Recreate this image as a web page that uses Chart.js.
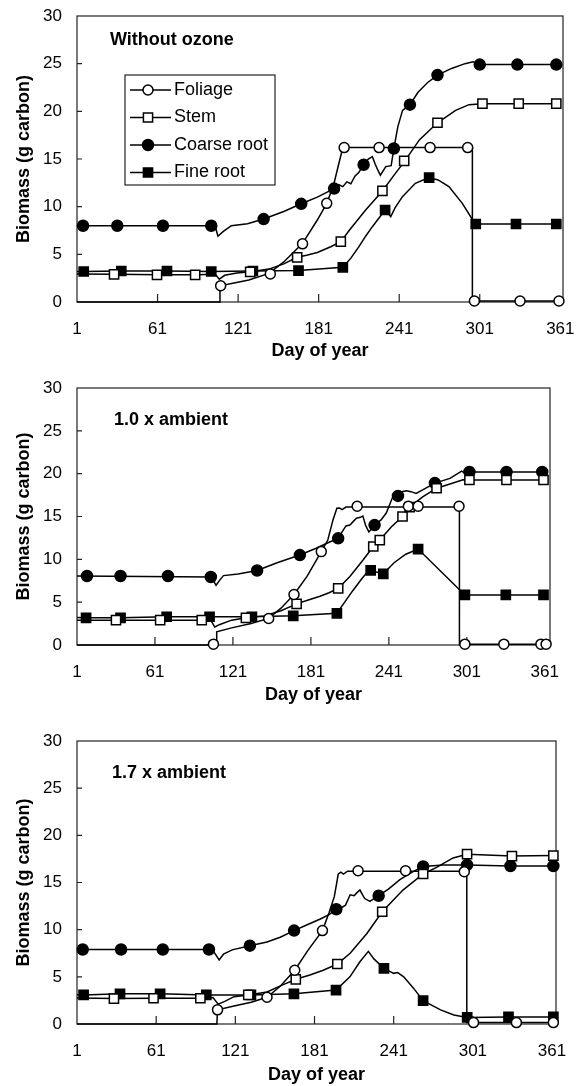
<!DOCTYPE html>
<html>
<head>
<meta charset="utf-8">
<script src="https://cdn.jsdelivr.net/npm/chart.js@4.4.1/dist/chart.umd.min.js"></script>
<style>
  body { margin: 0; background: #fff; width: 585px; height: 1086px; position: relative; overflow: hidden; }
  canvas { position: absolute; left: 0; }
</style>
</head>
<body>
<canvas id="p1" width="585" height="365" style="top:0px"></canvas>
<canvas id="p2" width="585" height="355" style="top:365px"></canvas>
<canvas id="p3" width="585" height="366" style="top:720px"></canvas>
<script>
// ---- data: [day of year, biomass g carbon] ----
const seriesNames = ['Foliage', 'Stem', 'Coarse root', 'Fine root'];
const panelLabels = ['Without ozone', '1.0 x ambient', '1.7 x ambient'];
const dayTicks = [1, 61, 121, 181, 241, 301, 361];
const biomassTicks = [0, 5, 10, 15, 20, 25, 30];

// Without ozone
const p1FoliageLine = [[1,0],[107,0],[107.5,1.7],[118,2.0],[129,2.3],[144,3.0],[155,4.2],[169,6.15],[180,8.6],[187,10.35],[192,12.2],[196,14.5],[199,16.2],[295.5,16.2],[295.5,0.1],[360,0.1]];
const p1FoliageMarks = [[108,1.7],[145,2.95],[169,6.1],[187,10.35],[200,16.2],[226,16.2],[264,16.2],[292,16.2],[297,0.1],[331,0.1],[360,0.1]];
const p1StemLine = [[1,2.95],[30,2.9],[61,2.85],[90,2.85],[104,2.9],[107,2.4],[111,2.8],[120,3.05],[132,3.2],[145,3.5],[155,4.0],[165,4.69],[172,4.9],[180,5.2],[190,5.8],[197.5,6.33],[204,7.55],[216,9.65],[228.5,11.65],[236.6,13.2],[244.7,14.7],[256,17.0],[269.5,18.8],[283,20.1],[293,20.7],[303,20.8],[358,20.8]];
const p1StemMarks = [[28.6,2.9],[60.6,2.85],[89,2.85],[130,3.15],[165,4.69],[197.5,6.33],[228.5,11.65],[244.7,14.8],[269.5,18.8],[303,20.8],[330,20.8],[358,20.8]];
const p1CoarseLine = [[1,8],[101,8],[104,7.9],[106,6.9],[110,7.4],[116,8.0],[128,8.2],[140,8.7],[155,9.5],[168,10.3],[180,11.0],[192.5,11.9],[196,12.3],[199,12.1],[202,12.6],[205,12.4],[208,13.2],[211,13.6],[214.5,14.4],[218,15.0],[221,15.25],[223,14.5],[225,13.85],[227,13.3],[231,14.2],[235,14.3],[237,16.1],[240,18.4],[243.5,20.1],[249,20.7],[255,22.0],[262,23.0],[269.5,23.8],[280,24.5],[290,25.0],[296,25.2],[300.5,24.9],[358,24.9]];
const p1CoarseMarks = [[5.5,8],[31,8],[65,8],[101,8],[140,8.7],[168,10.3],[192.5,11.9],[214.5,14.4],[237,16.1],[249,20.7],[269.5,23.8],[301,24.9],[329,24.9],[358,24.9]];
const p1FineLine = [[1,3.2],[6,3.2],[34,3.25],[68,3.25],[101,3.2],[132,3.25],[166,3.3],[199,3.64],[205,4.6],[211,5.8],[216,6.9],[221,7.9],[230.5,9.65],[232,9.4],[234.7,8.95],[238,9.9],[243.4,11.05],[253,12.45],[263.3,13.05],[270,12.8],[278,12.1],[288,10.35],[297.6,8.18],[358,8.18]];
const p1FineMarks = [[6,3.2],[34,3.25],[68,3.25],[101,3.2],[132,3.25],[166,3.3],[199,3.64],[230.5,9.65],[263.3,13.05],[298,8.18],[328,8.18],[358,8.18]];

// 1.0 x ambient
const p2FoliageLine = [[1,0],[108,0],[108.5,1.55],[120,2.0],[135,2.5],[148.5,3.1],[158,4.3],[168,5.9],[178,8.0],[189,10.9],[194,12.25],[198,14.6],[201,15.96],[203,16.0],[205,15.8],[208,16.1],[295.3,16.1],[295.3,0.1],[362,0.1]];
const p2FoliageMarks = [[106,0.1],[148.5,3.1],[168,5.9],[189,10.9],[216.6,16.2],[256,16.2],[263.5,16.2],[295,16.2],[299.5,0.1],[329.5,0.1],[358,0.1],[362,0.1]];
const p2StemLine = [[1,2.9],[31,2.9],[65,2.9],[97,2.9],[104,2.9],[107,2.1],[111,2.4],[120,2.9],[131,3.17],[145,3.4],[158,4.0],[170,4.8],[179,5.25],[188,5.7],[195,6.1],[202,6.6],[211,8.0],[221,9.9],[229,11.5],[234,12.25],[243,13.8],[251.5,15.0],[257,16.1],[267,17.3],[277.7,18.3],[288,18.8],[298,19.3],[303,19.26],[360,19.26]];
const p2StemMarks = [[31,2.9],[65,2.9],[97,2.9],[131,3.17],[170,4.8],[202,6.6],[229,11.5],[234,12.25],[251.5,15.0],[257,16.1],[277.7,18.3],[303,19.26],[331.5,19.26],[360,19.26]];
const p2CoarseLine = [[1,8.05],[104,7.94],[106,7.5],[108,6.97],[111,7.6],[113.7,8.1],[125,8.3],[139.6,8.7],[155,9.6],[172.5,10.5],[185,11.3],[195,12.0],[202,12.45],[205,13.2],[208,13.9],[211,14.0],[213.5,14.4],[216,14.8],[219,14.9],[221,15.06],[223,14.0],[225.6,13.2],[228,13.6],[230,14.0],[235,14.6],[239,15.4],[244,17.3],[248,17.4],[251,17.9],[254.6,18.0],[258,17.9],[262,17.7],[267,18.1],[276.4,18.9],[288,19.45],[297,20.3],[299,20.1],[303,20.2],[359,20.2]];
const p2CoarseMarks = [[8.7,8.05],[34.5,8.05],[71,8.05],[104,7.94],[139.6,8.7],[172.5,10.5],[202,12.45],[230,14.0],[248,17.4],[276.4,18.9],[303,20.2],[331.5,20.2],[359,20.2]];
const p2FineLine = [[1,3.2],[8,3.17],[34.5,3.17],[70,3.3],[103,3.3],[135.6,3.3],[167.4,3.4],[201,3.7],[207,5.0],[213.5,6.4],[220,7.7],[223.8,8.4],[227,8.7],[232,8.5],[236.7,8.3],[245,9.6],[254,10.6],[263.5,11.2],[299.5,5.84],[360,5.84]];
const p2FineMarks = [[8,3.17],[34.5,3.17],[70,3.3],[103,3.3],[135.6,3.3],[167.4,3.4],[201,3.7],[227,8.7],[236.7,8.3],[263.5,11.2],[299.5,5.84],[331,5.84],[360,5.84]];

// 1.7 x ambient
const p3FoliageLine = [[1,0],[107,0],[107.5,1.5],[120,1.9],[133,2.3],[145,2.83],[155,4.0],[166,5.7],[176,7.8],[187,9.9],[192,11.8],[196,13.5],[199,15.9],[201,16.1],[203,15.9],[206,16.2],[296.4,16.2],[296.4,0.15],[362,0.15]];
const p3FoliageMarks = [[107.5,1.5],[145,2.83],[166,5.7],[187,9.9],[214,16.25],[250,16.25],[294.5,16.15],[301.5,0.15],[334,0.15],[362,0.15]];
const p3StemLine = [[1,2.75],[29,2.7],[59,2.73],[94.5,2.73],[104,2.8],[108,2.1],[113,2.4],[120,2.9],[130.8,3.08],[145,3.4],[156,4.1],[166.8,4.74],[177.5,5.2],[187.6,5.7],[198.3,6.36],[208,7.5],[220.7,9.6],[232.3,11.9],[248,14.2],[263.3,15.9],[273.5,16.6],[286,17.6],[296.6,18.0],[330.6,17.8],[362,17.85]];
const p3StemMarks = [[29,2.7],[59,2.73],[94.5,2.73],[130.8,3.08],[166.8,4.74],[198.3,6.36],[232.3,11.9],[263.3,15.9],[296.6,18.0],[330.6,17.8],[362,17.85]];
const p3CoarseLine = [[1,7.9],[101,7.9],[104,7.8],[108.7,6.8],[112,7.4],[118.6,7.86],[132,8.3],[145,8.7],[155,9.2],[165.5,9.9],[175,10.5],[185,11.1],[192,11.6],[197.5,12.16],[201,12.3],[204.5,12.6],[208,13.7],[211,13.6],[213,13.9],[215.4,14.2],[219,13.3],[223,13.0],[226,13.3],[229.6,13.6],[237,14.3],[245.7,15.3],[255,16.1],[263.3,16.7],[278.5,16.86],[296.6,16.86],[329.5,16.75],[362,16.75]];
const p3CoarseMarks = [[5.3,7.9],[34.4,7.9],[66,7.9],[101,7.9],[132,8.3],[165.5,9.9],[197.5,12.16],[229.6,13.6],[263.3,16.7],[296.6,16.86],[329.5,16.75],[362,16.75]];
const p3FineLine = [[1,3.1],[6,3.08],[33.6,3.2],[64,3.2],[99,3.08],[132.8,3.08],[165.4,3.2],[197.3,3.6],[207.8,5.0],[215.4,6.6],[221.8,7.7],[226,6.9],[233.6,5.9],[241,5.37],[244,5.45],[248.6,5.0],[256,3.8],[263.3,2.47],[276.5,1.5],[286.6,0.95],[296.7,0.7],[328,0.75],[362,0.75]];
const p3FineMarks = [[6,3.08],[33.6,3.2],[64,3.2],[99,3.08],[132.8,3.08],[165.4,3.2],[197.3,3.6],[233.6,5.9],[263.3,2.47],[296.7,0.7],[328,0.75],[362,0.75]];

// marker look per series
const markerStyles = [
  { shape: 'circle', r: 5, fill: '#fff' },
  { shape: 'rect', r: 6.5, fill: '#fff' },
  { shape: 'circle', r: 5.5, fill: '#000' },
  { shape: 'rect', r: 6.5, fill: '#000' }
];

const FONT = "'Liberation Sans', Arial, sans-serif";
Chart.defaults.font.family = FONT;
Chart.defaults.color = '#000';

// draws the box, inward ticks, panel caption and (panel 1) legend
const framePlugin = {
  id: 'frame',
  beforeDatasetsDraw(chart) {
    const { ctx, chartArea: a, scales } = chart;
    ctx.save();
    ctx.strokeStyle = '#222';
    ctx.lineWidth = 1.2;
    ctx.strokeRect(a.left, a.top, a.right - a.left, a.bottom - a.top);
    ctx.beginPath();
    dayTicks.slice(1, -1).forEach(d => {
      const x = scales.x.getPixelForValue(d);
      ctx.moveTo(x, a.bottom); ctx.lineTo(x, a.bottom - 8);
    });
    biomassTicks.slice(1, -1).forEach(v => {
      const y = scales.y.getPixelForValue(v);
      ctx.moveTo(a.left, y); ctx.lineTo(a.left + 5, y);
    });
    ctx.stroke();
    ctx.restore();
  },
  afterDraw(chart, args, opts) {
    const { ctx, chartArea: a } = chart;
    ctx.save();
    ctx.fillStyle = '#000';
    ctx.font = 'bold 18px ' + FONT;
    ctx.textBaseline = 'middle';
    ctx.fillText(opts.label, opts.labelX, a.top + opts.labelDy);
    if (opts.legend) {
      const L = opts.legend;
      ctx.strokeStyle = '#222';
      ctx.lineWidth = 1.2;
      ctx.strokeRect(L.x, L.y, L.w, L.h);
      ctx.font = '18px ' + FONT;
      seriesNames.forEach((name, i) => {
        const y = L.y + L.firstRow + i * L.rowGap;
        const st = markerStyles[i];
        ctx.strokeStyle = '#000';
        ctx.lineWidth = 1.5;
        ctx.beginPath();
        ctx.moveTo(L.x + 5, y); ctx.lineTo(L.x + 46, y);
        ctx.stroke();
        const mx = L.x + 23;
        ctx.fillStyle = st.fill;
        ctx.beginPath();
        if (st.shape === 'circle') ctx.arc(mx, y, st.r, 0, Math.PI * 2);
        else { const s = st.r * Math.SQRT1_2; ctx.rect(mx - s, y - s, 2 * s, 2 * s); }
        ctx.fill(); ctx.stroke();
        ctx.fillStyle = '#000';
        ctx.fillText(name, L.x + 49, y);
      });
    }
    ctx.restore();
  }
};

function buildDatasets(lines, marks) {
  const ds = [];
  markerStyles.forEach((st, i) => {
    ds.push({
      label: seriesNames[i], data: lines[i], showLine: true,
      borderColor: '#000', borderWidth: 1.5, pointRadius: 0, pointHoverRadius: 0,
      order: 2, clip: false
    });
    ds.push({
      label: seriesNames[i], data: marks[i], showLine: false,
      pointStyle: st.shape, pointRadius: st.r, pointHoverRadius: st.r,
      backgroundColor: st.fill, borderColor: '#000', borderWidth: 1.5,
      order: 1, clip: false
    });
  });
  return ds;
}

function makePanel(id, idx, lines, marks, geo) {
  new Chart(document.getElementById(id), {
    type: 'scatter',
    data: { datasets: buildDatasets(lines, marks) },
    options: {
      responsive: false,
      animation: false,
      devicePixelRatio: 1,
      layout: { padding: { top: geo.padTop, right: geo.padRight, left: 0, bottom: 0 } },
      plugins: {
        legend: { display: false },
        tooltip: { enabled: false },
        frame: { label: panelLabels[idx], labelX: geo.labelX, labelDy: geo.labelDy, legend: geo.legend }
      },
      scales: {
        x: {
          type: 'linear', min: 1, max: geo.xMax,
          grid: { display: false, drawTicks: false },
          border: { display: false },
          afterBuildTicks: s => { s.ticks = dayTicks.map(v => ({ value: v })); },
          afterFit: s => { s.height = geo.axisH; s.paddingLeft = 0; s.paddingRight = 0; },
          ticks: { font: { size: 17 }, padding: 17, maxRotation: 0, autoSkip: false },
          title: { display: true, text: 'Day of year', font: { size: 18, weight: 'bold' }, padding: { top: 0, bottom: geo.titleBottom } }
        },
        y: {
          min: 0, max: 30,
          grid: { display: false, drawTicks: false },
          border: { display: false },
          afterBuildTicks: s => { s.ticks = biomassTicks.map(v => ({ value: v })); },
          afterFit: s => { s.width = 77; s.paddingTop = 0; s.paddingBottom = 0; },
          ticks: { font: { size: 17 }, padding: 15 },
          title: { display: true, text: 'Biomass (g carbon)', font: { size: 18, weight: 'bold' }, padding: { top: 13, bottom: 0 } }
        }
      }
    },
    plugins: [framePlugin]
  });
}

makePanel('p1', 0,
  [p1FoliageLine, p1StemLine, p1CoarseLine, p1FineLine],
  [p1FoliageMarks, p1StemMarks, p1CoarseMarks, p1FineMarks],
  { padTop: 16, padRight: 22, axisH: 63, titleBottom: 3, xMax: 363, labelX: 110, labelDy: 24,
    legend: { x: 125, y: 75, w: 150, h: 110, firstRow: 15, rowGap: 27.5 } });
makePanel('p2', 1,
  [p2FoliageLine, p2StemLine, p2CoarseLine, p2FineLine],
  [p2FoliageMarks, p2StemMarks, p2CoarseMarks, p2FineMarks],
  { padTop: 23, padRight: 35, axisH: 75, titleBottom: 14, xMax: 365, labelX: 114, labelDy: 32 });
makePanel('p3', 2,
  [p3FoliageLine, p3StemLine, p3CoarseLine, p3FineLine],
  [p3FoliageMarks, p3StemMarks, p3CoarseMarks, p3FineMarks],
  { padTop: 21, padRight: 29, axisH: 62, titleBottom: 0, xMax: 364, labelX: 112, labelDy: 32 });
</script>
</body>
</html>
